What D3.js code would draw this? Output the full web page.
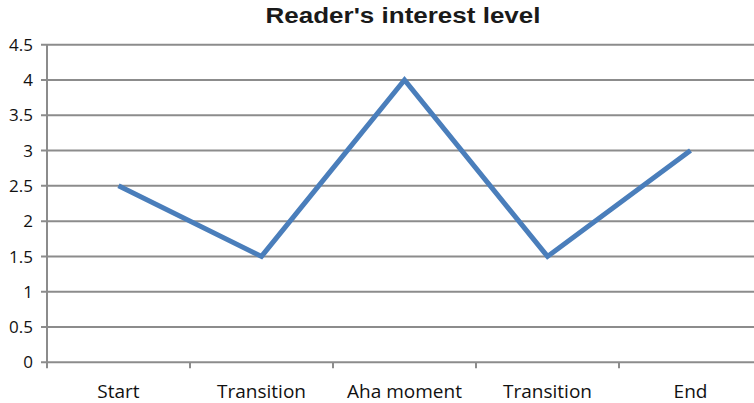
<!DOCTYPE html>
<html><head><meta charset="utf-8">
<script src="https://cdn.jsdelivr.net/npm/d3@7"></script>
<style>body{margin:0;background:#fff}svg{display:block}</style>
</head><body>
<svg id="c" width="754" height="403"></svg>
<script>
const categories = ["Start", "Transition", "Aha moment", "Transition", "End"];
const values = [2.5, 1.5, 4, 1.5, 3];
const yTicks = [0, 0.5, 1, 1.5, 2, 2.5, 3, 3.5, 4, 4.5];
const title = "Reader's interest level";

(function () {
const svg = d3.select("#c");
const mLeft = 47, mRight = 762, mTop = 44.7, mBottom = 362.3;
const x = d3.scaleBand().domain(d3.range(categories.length)).range([mLeft, mRight]).padding(0);
const y = d3.scaleLinear().domain([0, 4.5]).range([mBottom, mTop]);

svg.append("g").selectAll("line").data(yTicks).join("line")
  .attr("x1", mLeft - 6).attr("x2", 754)
  .attr("y1", d => y(d)).attr("y2", d => y(d))
  .attr("stroke", "#8c8c8c").attr("stroke-width", 2);

svg.append("line").attr("x1", mLeft).attr("x2", mLeft).attr("y1", mTop).attr("y2", mBottom + 5)
  .attr("stroke", "#8c8c8c").attr("stroke-width", 2);

svg.append("g").selectAll("line").data(d3.range(categories.length + 1)).join("line")
  .attr("x1", d => mLeft + d * x.bandwidth()).attr("x2", d => mLeft + d * x.bandwidth())
  .attr("y1", mBottom).attr("y2", mBottom + 6)
  .attr("stroke", "#8c8c8c").attr("stroke-width", 2);

svg.append("g").selectAll("text").data(yTicks).join("text")
  .attr("x", 33).attr("y", d => y(d)).attr("dy", "0.36em")
  .attr("text-anchor", "end")
  .attr("font-family", "Open Sans, Liberation Sans, sans-serif").attr("font-size", 17)
  .attr("fill", "#111").text(d => d);

svg.append("g").selectAll("text").data(categories).join("text")
  .attr("x", (d, i) => x(i) + x.bandwidth() / 2).attr("y", 398)
  .attr("text-anchor", "middle")
  .attr("font-family", "Open Sans, Liberation Sans, sans-serif").attr("font-size", 19)
  .attr("fill", "#111").text(d => d);

const line = d3.line().x((d, i) => x(i) + x.bandwidth() / 2).y(d => y(d));
svg.append("path").datum(values).attr("d", line)
  .attr("fill", "none").attr("stroke", "#4a7ebb").attr("stroke-width", 5)
  .attr("stroke-linejoin", "miter").attr("stroke-linecap", "butt");

svg.append("text").attr("x", 403).attr("y", 23).attr("text-anchor", "middle")
  .attr("font-family", "Liberation Sans, Arial, sans-serif").attr("font-weight", "bold")
  .attr("font-size", 22).attr("textLength", 275).attr("lengthAdjust", "spacingAndGlyphs")
  .attr("fill", "#1a1a1a").text(title);
})();
</script>
</body></html>
